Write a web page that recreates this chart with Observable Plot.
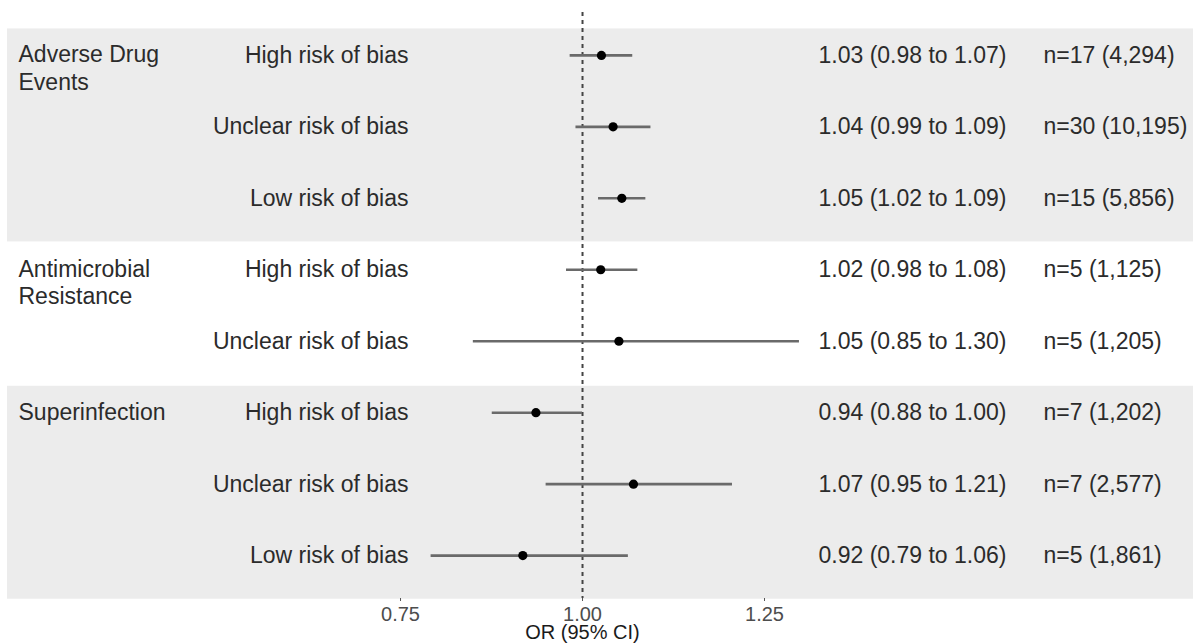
<!DOCTYPE html>
<html>
<head>
<meta charset="utf-8">
<script src="https://cdn.jsdelivr.net/npm/d3@7"></script>
<script src="https://cdn.jsdelivr.net/npm/@observablehq/plot@0.6"></script>
<style>
  html, body { margin: 0; padding: 0; background: #fff; }
  #chart svg { display: block; }
</style>
</head>
<body>
<div id="chart"></div>
<script>
// ---- data ----
const outcomes = ["Adverse Drug Events", "Antimicrobial Resistance", "Superinfection"];
const outcomeLabels = ["Adverse Drug\nEvents", "Antimicrobial\nResistance", "Superinfection"];
const outcomeShaded = [true, false, true];

const rowOutcome = ["Adverse Drug Events", "Adverse Drug Events", "Adverse Drug Events",
  "Antimicrobial Resistance", "Antimicrobial Resistance",
  "Superinfection", "Superinfection", "Superinfection"];
const rowBias = ["High risk of bias", "Unclear risk of bias", "Low risk of bias",
  "High risk of bias", "Unclear risk of bias",
  "High risk of bias", "Unclear risk of bias", "Low risk of bias"];
const orValue = [1.026, 1.042, 1.054, 1.025, 1.050, 0.936, 1.070, 0.918];
const ciLow  = [0.983, 0.991, 1.022, 0.978, 0.850, 0.876, 0.950, 0.792];
const ciHigh = [1.069, 1.094, 1.087, 1.076, 1.298, 1.000, 1.206, 1.063];
const estText = ["1.03 (0.98 to 1.07)", "1.04 (0.99 to 1.09)", "1.05 (1.02 to 1.09)",
  "1.02 (0.98 to 1.08)", "1.05 (0.85 to 1.30)",
  "0.94 (0.88 to 1.00)", "1.07 (0.95 to 1.21)", "0.92 (0.79 to 1.06)"];
const nText = ["n=17 (4,294)", "n=30 (10,195)", "n=15 (5,856)",
  "n=5 (1,125)", "n=5 (1,205)",
  "n=7 (1,202)", "n=7 (2,577)", "n=5 (1,861)"];
const xTicks = [0.75, 1.00, 1.25];
const nullValue = 1;
const xTitle = "OR (95% CI)";

// ---- derived tables ----
const rows = rowBias.map((b, i) => ({
  row: i, outcome: rowOutcome[i], bias: b,
  or: orValue[i], lo: ciLow[i], hi: ciHigh[i], est: estText[i], n: nText[i]
}));
const groups = outcomes.map((o, k) => {
  const idx = rows.filter(r => r.outcome === o).map(r => r.row);
  return {
    outcome: o, label: outcomeLabels[k], shaded: outcomeShaded[k],
    first: d3.min(idx), y1: d3.min(idx) - 0.37, y2: d3.max(idx) + 0.61
  };
});

const font = "'Liberation Sans', Arial, Helvetica, sans-serif";
const textColor = "#2b2b2b";

const plot = Plot.plot({
  width: 1193,
  height: 644,
  marginLeft: 7,
  marginRight: 0,
  marginTop: 12,
  marginBottom: 46,
  style: { fontFamily: font, background: "#fff" },
  x: { domain: [0.2101, 1.8393], ticks: xTicks, tickFormat: d3.format(".2f") },
  y: { domain: [-0.6, 7.6], reverse: true, axis: null },
  marks: [
    Plot.barY(groups.filter(g => g.shaded), { y1: "y1", y2: "y2", fill: "#ececec" }),
    Plot.ruleX([nullValue], { stroke: "#444", strokeWidth: 2, strokeDasharray: "4,4" }),
    Plot.ruleY(rows, { y: "row", x1: "lo", x2: "hi", stroke: "#6a6a6a", strokeWidth: 2.6 }),
    Plot.dot(rows, { x: "or", y: "row", r: 4.6, fill: "#000", stroke: "none" }),
    Plot.axisX({ ticks: xTicks, tickFormat: d3.format(".2f"), tickSize: 3, tickPadding: 5,
      fontSize: 20, color: "#4d4d4d", stroke: "#555", label: null }),
    Plot.text([xTitle], { frameAnchor: "bottom", dx: -18, dy: 26, lineAnchor: "top",
      fontSize: 20, fill: "#1a1a1a" }),
    Plot.text(groups, { y: "first", text: "label", frameAnchor: "left", dx: 11,
      textAnchor: "start", lineAnchor: "top", dy: -12.5, lineHeight: 1.19,
      fontSize: 23, fill: textColor }),
    Plot.text(rows, { y: "row", text: "bias", frameAnchor: "left", dx: 401,
      textAnchor: "end", fontSize: 23, fill: textColor }),
    Plot.text(rows, { y: "row", text: "est", frameAnchor: "left", dx: 811,
      textAnchor: "start", fontSize: 23, fill: textColor }),
    Plot.text(rows, { y: "row", text: "n", frameAnchor: "left", dx: 1036,
      textAnchor: "start", fontSize: 23, fill: textColor })
  ]
});
document.getElementById("chart").appendChild(plot);
</script>
</body>
</html>
